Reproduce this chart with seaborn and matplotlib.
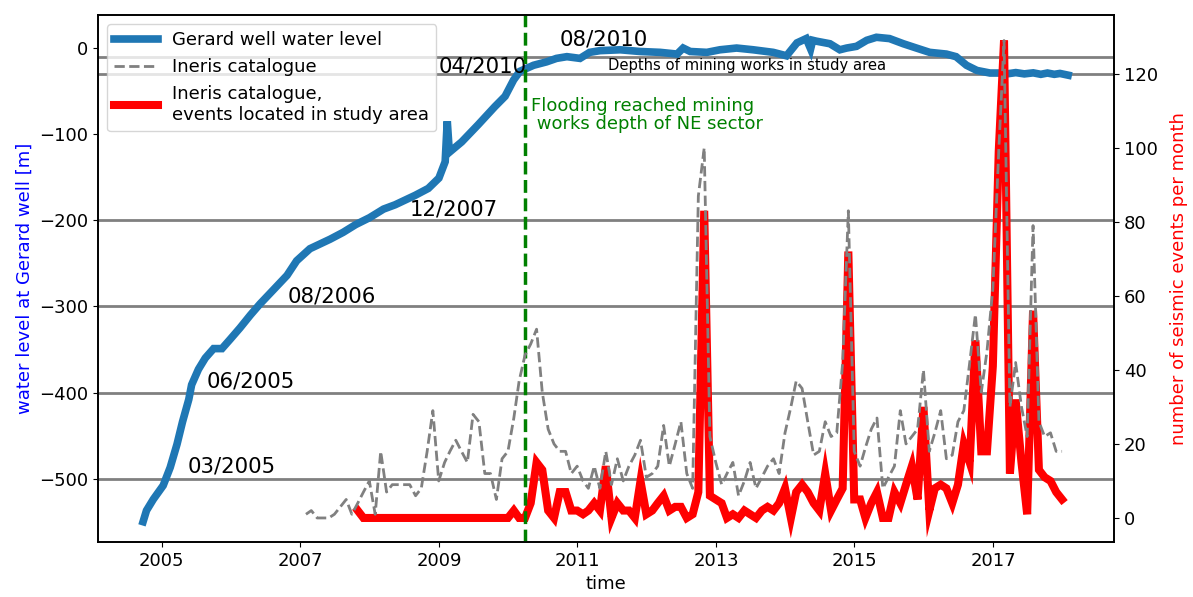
import matplotlib
matplotlib.use('Agg')
import matplotlib.pyplot as plt
import matplotlib.dates as mdates
import pandas as pd
import seaborn as sns

# Gerard well water level (irregular readings)
water_dates = ['2004-09-24', '2004-10-12', '2004-11-17', '2005-01-08', '2005-02-14',
               '2005-03-22', '2005-04-20', '2005-05-23', '2005-06-07', '2005-07-13',
               '2005-08-18', '2005-10-01', '2005-11-14', '2005-12-28', '2006-02-17',
               '2006-04-13', '2006-06-03', '2006-08-11', '2006-10-23', '2006-12-13',
               '2007-02-21', '2007-06-07', '2007-08-15', '2007-10-20', '2008-01-01',
               '2008-03-15', '2008-05-15', '2008-08-29', '2008-11-06', '2009-01-01',
               '2009-02-03', '2009-02-14', '2009-02-25', '2009-05-01', '2009-07-27',
               '2009-10-23', '2009-12-16', '2010-01-30', '2010-03-04', '2010-05-15',
               '2010-07-23', '2010-09-13', '2010-11-07', '2011-01-15', '2011-03-07',
               '2011-05-01', '2011-08-15', '2011-11-28', '2012-03-13', '2012-06-10',
               '2012-07-12', '2012-08-18', '2012-11-14', '2013-01-22', '2013-04-20',
               '2013-07-16', '2013-10-30', '2014-01-08', '2014-03-04', '2014-04-22',
               '2014-05-15', '2014-05-26', '2014-06-14', '2014-08-25', '2014-10-16',
               '2014-11-21', '2015-01-12', '2015-03-07', '2015-04-27', '2015-07-05',
               '2015-09-16', '2015-11-24', '2016-02-02', '2016-04-30', '2016-06-20',
               '2016-08-14', '2016-10-08', '2016-12-16', '2017-02-01', '2017-03-15',
               '2017-05-01', '2017-06-15', '2017-08-01', '2017-09-10', '2017-10-15',
               '2017-11-20', '2017-12-20', '2018-02-01']
water_level = [-550, -537, -524, -508, -487,
               -460, -434, -408, -391, -373,
               -360, -349, -349, -338, -325,
               -310, -297, -281, -264, -247,
               -233, -222, -214, -205, -197,
               -187, -182, -171, -163, -151,
               -132, -85, -121, -109, -89,
               -68, -56, -37, -27, -20,
               -16, -12, -10, -12, -5,
               -3, -2, -4, -5, -7,
               0, -4, -5, -2, 0,
               -2, -5, -9, 6, 11,
               -1, 9, 8, 5, -2,
               0, 2, 9, 12.5, 11,
               5, 0, -5, -7, -10,
               -20, -26, -29, -29, -30,
               -28.5, -30, -28.8, -30.5, -29,
               -30.5, -29.5, -31.5]

# Ineris catalogue, events per month (month-end dates)
catalogue_start = '2007-01-31'
catalogue_all = [1, 2, 0, 0, 0, 1, 3, 5, 1, 4, 7, 10,
                 1, 18, 7, 9, 9, 9, 9, 6, 8, 18, 29, 10,
                 15, 18, 21, 18, 15, 28, 26, 12, 12, 5, 16, 18,
                 27, 37, 44, 47, 51, 34, 24, 20, 18, 18, 12, 14,
                 10, 8, 14, 8, 18, 9, 16, 10, 14, 17, 21, 11,
                 12, 14, 25, 14, 20, 26, 12, 8, 87, 100, 22, 15,
                 9, 12, 15, 6, 10, 15, 8, 11, 14, 16, 12, 23,
                 30, 37, 35, 26, 17, 18, 26, 22, 23, 42, 83, 18,
                 14, 19, 24, 27, 8, 11, 14, 29, 20, 22, 24, 40,
                 18, 23, 29, 16, 17, 26, 29, 42, 55, 34, 45, 62,
                 99, 129, 30, 42, 30, 22, 79, 26, 22, 23, 18, 18]

study_area_start = '2007-10-31'
catalogue_study_area = [2, 0, 0, 0, 0, 0, 0, 0, 0, 0, 0, 0, 0, 0, 0, 0, 0, 0,
                        0, 0, 0, 0, 0, 0, 0, 0, 0, 2, 0, 0, 4, 15, 13, 2, 0, 7, 7,
                        2, 2, 1, 2, 4, 2, 14, 0, 4, 2, 2, 0, 10, 1, 2, 4, 6, 2,
                        3, 3, 0, 1, 7, 83, 6, 5, 4, 0, 1, 0, 2, 1, 0, 2, 3, 2,
                        4, 8, 0, 7, 9, 7, 4, 2, 12, 2, 5, 8, 72, 5, 5, 0, 4, 7,
                        0, 0, 7, 4, 9, 14, 5, 30, 2, 8, 9, 8, 4, 9, 20, 15, 48, 18,
                        18, 41, 99, 129, 12, 32, 15, 1, 56, 13, 11, 10, 7, 5]

grid_levels = [-200, -300, -400, -500]
mining_depths = [-10, -30]
flooding_date = '2010-04-01'

stage_labels = ['03/2005', '06/2005', '08/2006', '12/2007', '04/2010', '08/2010']
stage_dates = ['2005-05-15', '2005-08-25', '2006-10-27', '2008-08-01', '2008-12-28', '2010-10-01']
stage_levels = [-486, -387, -288, -187, -22, 10]

plt.rcParams['font.size'] = 13
plt.rcParams['axes.linewidth'] = 1.2

water = pd.DataFrame({'time': pd.to_datetime(water_dates), 'level': water_level})
all_events = pd.DataFrame({'time': pd.date_range(catalogue_start, periods=len(catalogue_all), freq='ME'),
                           'count': catalogue_all})
area_events = pd.DataFrame({'time': pd.date_range(study_area_start, periods=len(catalogue_study_area), freq='ME'),
                            'count': catalogue_study_area})

fig, ax = plt.subplots(figsize=(11.93, 5.97), dpi=100)
fig.subplots_adjust(left=0.0821, right=0.9338, top=0.9749, bottom=0.0921)

for lvl in grid_levels + mining_depths:
    ax.axhline(lvl, color='gray', lw=2, zorder=1)

sns.lineplot(data=water, x='time', y='level', ax=ax, color='#1f77b4', lw=5.5,
             estimator=None, legend=False, solid_joinstyle='miter')
h_water = ax.lines[-1]

for lab, d, lvl in zip(stage_labels, stage_dates, stage_levels):
    ax.text(pd.Timestamp(d), lvl, lab, fontsize=15.3, ha='left', va='center')

ax.text(pd.Timestamp('2011-06-10'), -20, 'Depths of mining works in study area',
        fontsize=10.6, ha='left', va='center')
ax.text(pd.Timestamp('2010-05-04'), -57, 'Flooding reached mining\n works depth of NE sector',
        color='green', fontsize=13, ha='left', va='top', linespacing=1.0)

ax.set_ylim(-573.6, 38.4)
ax.set_yticks([0, -100, -200, -300, -400, -500])
ax.set_ylabel('water level at Gerard well [m]', color='blue')
ax.set_xlabel('time')

ax2 = ax.twinx()
sns.lineplot(data=area_events, x='time', y='count', ax=ax2, color='red', lw=5.8,
             estimator=None, legend=False, solid_joinstyle='miter')
h_area = ax2.lines[-1]
ax2.axvline(pd.Timestamp(flooding_date), color='green', ls='--', lw=2.5)
sns.lineplot(data=all_events, x='time', y='count', ax=ax2, color='gray', lw=2,
             ls='--', estimator=None, legend=False)
h_all = ax2.lines[-1]

ax2.set_ylim(-6.5, 135.9)
ax2.set_yticks([0, 20, 40, 60, 80, 100, 120])
ax2.set_ylabel('number of seismic events per month', color='red', labelpad=9)

ax.set_xlim(pd.Timestamp('2004-01-30'), pd.Timestamp('2018-10-01'))
ax.set_xticks([pd.Timestamp(f'{y}-01-01') for y in range(2005, 2018, 2)])
ax.xaxis.set_major_formatter(mdates.DateFormatter('%Y'))

ax2.legend([h_water, h_all, h_area],
           ['Gerard well water level', 'Ineris catalogue',
            'Ineris catalogue,\nevents located in study area'],
           loc='upper left', handlelength=2.4, fontsize=13)

fig.savefig('out.png', dpi=100)
